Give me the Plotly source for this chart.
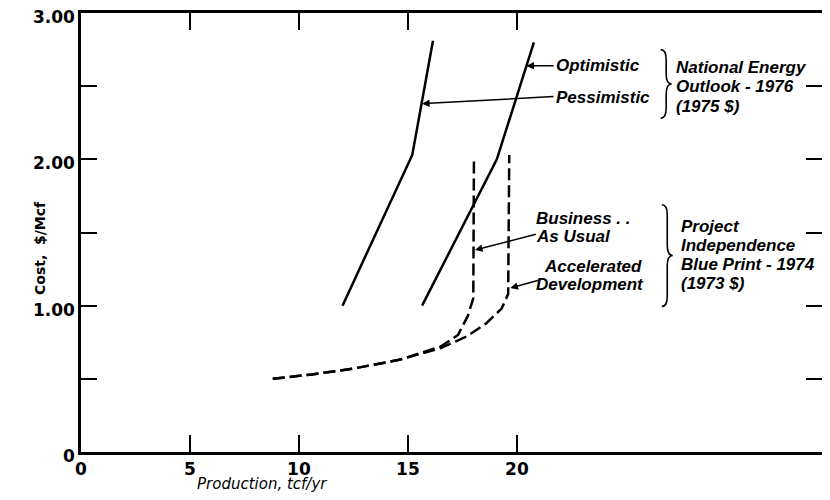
import plotly.graph_objects as go

# ---- data ----
pess_x = [12.0, 15.2, 16.15]
pess_y = [1.00, 2.03, 2.81]
opt_x = [15.65, 19.08, 20.78]
opt_y = [1.00, 2.00, 2.80]
bau_x = [8.8, 10.6, 12.5, 14.6, 16.5, 17.3, 17.75, 18.0, 18.03]
bau_y = [0.50, 0.53, 0.57, 0.63, 0.72, 0.80, 0.93, 1.05, 2.02]
acc_x = [8.8, 10.6, 12.5, 14.6, 16.5, 17.7, 18.6, 19.3, 19.6, 19.65]
acc_y = [0.50, 0.53, 0.57, 0.63, 0.71, 0.79, 0.88, 0.98, 1.08, 2.03]

x_tickvals = [0, 5, 10, 15, 20]
x_ticktext = ["0", "5", "10", "15", "20"]
y_tickvals = [0, 0.5, 1, 1.5, 2, 2.5, 3]
y_ticktext = ["0", "", "1.00", "", "2.00", "", "3.00"]

LBL = dict(family="Liberation Sans", size=17, color="black", weight="bold", style="italic")

# page body has an 8px margin, so the figure is sized/offset to compensate
W, H = 814, 484
ML, MR, MT, MB = 73, 0, 5, 40
PW, PH = W - ML - MR, H - MT - MB
OFF = 8

fig = go.Figure()
line_style = dict(color="black", width=2.5)
fig.add_trace(go.Scatter(x=pess_x, y=pess_y, mode="lines", line=line_style, name="Pessimistic"))
fig.add_trace(go.Scatter(x=opt_x, y=opt_y, mode="lines", line=line_style, name="Optimistic"))
fig.add_trace(go.Scatter(x=bau_x, y=bau_y, mode="lines",
                         line=dict(color="black", width=2.5, dash="12px,5px"), name="Business As Usual"))
fig.add_trace(go.Scatter(x=acc_x, y=acc_y, mode="lines",
                         line=dict(color="black", width=2.5, dash="12px,5px"), name="Accelerated Development"))

def txt(x, y, s):
    fig.add_annotation(x=x, y=y, text=s, showarrow=False, xanchor="left", yanchor="middle",
                       font=LBL, xref="x", yref="y")

def arrow(xt, yt, xa, ya):
    fig.add_annotation(x=xt, y=yt, ax=xa, ay=ya, axref="x", ayref="y", xref="x", yref="y",
                       text="", showarrow=True, arrowhead=2, arrowsize=1, arrowwidth=1.5,
                       arrowcolor="black")

txt(21.7, 2.64, "Optimistic")
txt(21.7, 2.42, "Pessimistic")
arrow(20.44, 2.64, 21.75, 2.64)
arrow(15.65, 2.38, 21.75, 2.43)

txt(27.2, 2.63, "National Energy")
txt(27.2, 2.50, "Outlook - 1976")
txt(27.2, 2.36, "(1975 $)")

txt(20.8, 1.595, "Business . .")
txt(20.8, 1.47, "As Usual")
txt(21.15, 1.27, "Accelerated")
txt(20.8, 1.145, "Development")
arrow(18.08, 1.38, 20.94, 1.49)
arrow(19.70, 1.12, 21.15, 1.18)

txt(27.45, 1.54, "Project")
txt(27.45, 1.41, "Independence")
txt(27.45, 1.28, "Blue Print - 1974")
txt(27.45, 1.15, "(1973 $)")

def brace(x0, xt, ytop, ybot, d=0.07):
    xm = (x0 + xt) / 2
    ym = (ytop + ybot) / 2
    p = (f"M {x0},{ytop} Q {xm},{ytop} {xm},{ytop - d} L {xm},{ym + d} "
         f"Q {xm},{ym} {xt},{ym} Q {xm},{ym} {xm},{ym - d} L {xm},{ybot + d} "
         f"Q {xm},{ybot} {x0},{ybot}")
    fig.add_shape(type="path", path=p, xref="x", yref="y", line=dict(color="black", width=1.6))

brace(26.6, 27.1, 2.75, 2.28)
brace(26.65, 27.15, 1.69, 0.995)

def px_to_paper(px, py):
    return (px - OFF - ML) / PW, 1 - (py - OFF - MT) / PH

# axis titles
tx, ty = px_to_paper(262, 484)
fig.add_annotation(xref="paper", yref="paper", x=tx, y=ty,
                   text="Production, tcf/yr", showarrow=False, xanchor="center", yanchor="middle",
                   font=dict(family="DejaVu Sans", size=15, color="black", style="italic"))
cx, cy = px_to_paper(40, 248)
fig.add_annotation(xref="paper", yref="paper", x=cx, y=cy,
                   text="Cost,  $/Mcf", showarrow=False, textangle=-90, xanchor="center",
                   yanchor="middle",
                   font=dict(family="DejaVu Sans", size=14, color="black", weight="bold"))

fig.update_xaxes(range=[0, 34], tickvals=x_tickvals, ticktext=x_ticktext, ticks="inside",
                 ticklen=17, tickwidth=2, tickcolor="black", showline=True, linewidth=2.5,
                 linecolor="black", mirror="ticks", showgrid=False, zeroline=False,
                 automargin=False, ticklabeloverflow="allow",
                 tickfont=dict(family="DejaVu Sans", size=17, color="black", weight="bold"),
                 ticklabelstandoff=0)
fig.update_yaxes(range=[0, 3], tickvals=y_tickvals, ticktext=y_ticktext, ticks="inside",
                 ticklen=16, tickwidth=2, tickcolor="black", showline=True, linewidth=2.5,
                 linecolor="black", mirror="ticks", showgrid=False, zeroline=False,
                 automargin=False, ticklabeloverflow="allow", ticklabelshift=4,
                 tickfont=dict(family="DejaVu Sans", size=17, color="black", weight="bold"),
                 ticklabelstandoff=0)

fig.update_layout(width=W, height=H,
                  margin=dict(l=ML, r=MR, t=MT, b=MB, autoexpand=False),
                  plot_bgcolor="white", paper_bgcolor="white", showlegend=False)

fig.write_html("out.html")
